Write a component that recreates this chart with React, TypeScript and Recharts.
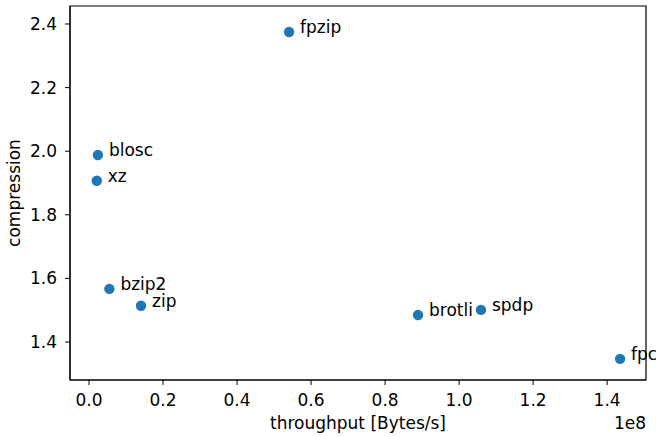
import { ScatterChart, Scatter, XAxis, YAxis, ReferenceArea } from "recharts";

const names = ["fpzip", "blosc", "xz", "bzip2", "zip", "brotli", "spdp", "fpc"];
const throughput = [0.5405e8, 0.024e8, 0.021e8, 0.055e8, 0.1405e8, 0.889e8, 1.059e8, 1.435e8];
const compression = [2.375, 1.988, 1.907, 1.567, 1.514, 1.485, 1.501, 1.347];

const xTicks = [0, 0.2e8, 0.4e8, 0.6e8, 0.8e8, 1.0e8, 1.2e8, 1.4e8];
const yTicks = [1.4, 1.6, 1.8, 2.0, 2.2, 2.4];

const xDomain: [number, number] = [-0.0514e8, 1.505e8];
const yDomain: [number, number] = [1.2805, 2.4566];

const data = names.map((name, i) => ({ name, x: throughput[i], y: compression[i] }));

const FONT = "DejaVu Sans";
const FS = 17;

function Dot(props: any) {
  const { cx, cy, payload } = props;
  return (
    <g>
      <circle cx={cx} cy={cy} r={5.2} fill="#1f77b4" />
      <text x={cx + 11} y={cy + 1} fontFamily={FONT} fontSize={FS} fill="#000">
        {payload.name}
      </text>
    </g>
  );
}

export default function App() {
  return (
    <div style={{ position: "absolute", left: 0, top: 0, width: 656, height: 437, background: "#fff" }}>
      <ScatterChart width={656} height={437} margin={{ top: 6, right: 10, left: 0, bottom: 0 }}>
        <XAxis
          type="number"
          dataKey="x"
          domain={xDomain}
          ticks={xTicks}
          height={57}
          tickSize={5}
          tickMargin={9}
          stroke="#000"
          tick={{ fill: "#000", fontFamily: FONT, fontSize: FS }}
          tickFormatter={(v: number) => (v / 1e8).toFixed(1)}
        />
        <YAxis
          type="number"
          dataKey="y"
          domain={yDomain}
          ticks={yTicks}
          width={70}
          tickSize={5}
          tickMargin={8}
          stroke="#000"
          tick={{ fill: "#000", fontFamily: FONT, fontSize: FS }}
          tickFormatter={(v: number) => v.toFixed(1)}
        />
        <ReferenceArea
          x1={xDomain[0]}
          x2={xDomain[1]}
          y1={yDomain[0]}
          y2={yDomain[1]}
          fill="none"
          stroke="#000"
          strokeWidth={1.2}
          fillOpacity={0}
        />
        <Scatter data={data} shape={<Dot />} isAnimationActive={false} />
        <text x={358} y={429} textAnchor="middle" fontFamily={FONT} fontSize={FS} fill="#000">
          throughput [Bytes/s]
        </text>
        <text x={646} y={429} textAnchor="end" fontFamily={FONT} fontSize={FS} fill="#000">
          1e8
        </text>
        <text
          x={0}
          y={0}
          transform="translate(20,193) rotate(-90)"
          textAnchor="middle"
          fontFamily={FONT}
          fontSize={FS}
          fill="#000"
        >
          compression
        </text>
      </ScatterChart>
    </div>
  );
}
